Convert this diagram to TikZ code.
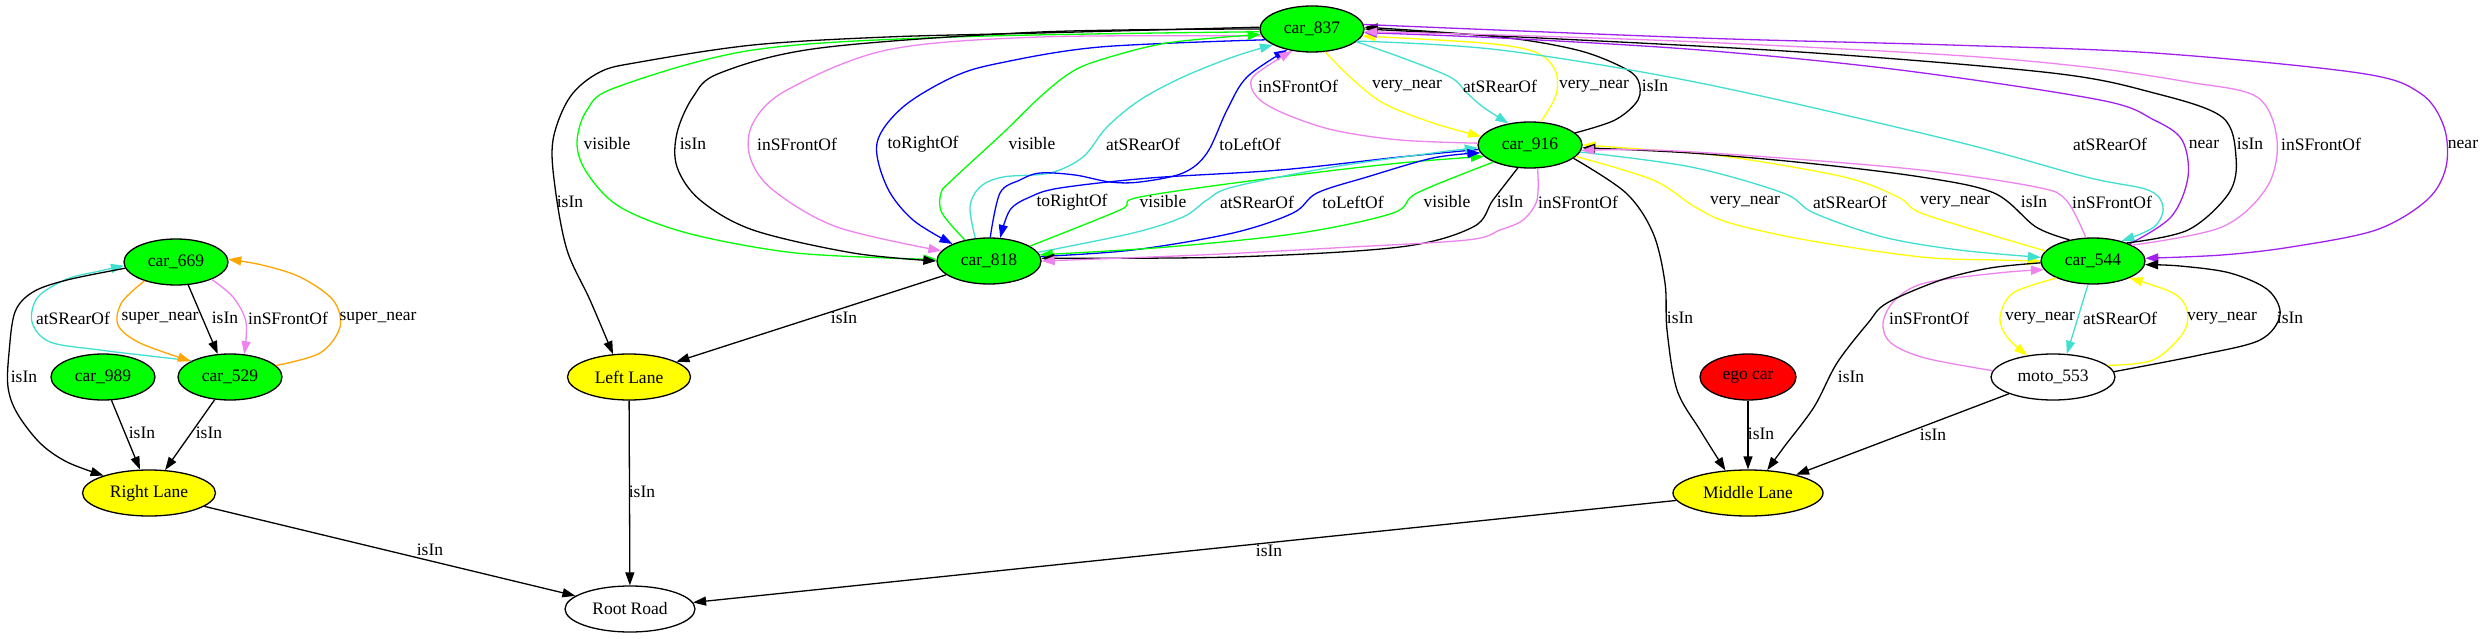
\documentclass[tikz,border=0pt]{standalone}
\usepackage{fontspec}
\setmainfont{Liberation Serif}
\usetikzlibrary{shapes.geometric,arrows.meta}
\definecolor{gvgreen}{RGB}{0,255,0}
\definecolor{gvviolet}{RGB}{238,130,238}
\definecolor{gvturq}{RGB}{64,224,208}
\definecolor{gvyellow}{RGB}{255,255,0}
\definecolor{gvpurple}{RGB}{160,32,240}
\definecolor{gvorange}{RGB}{255,165,0}
\definecolor{gvblue}{RGB}{0,0,255}
\definecolor{gvred}{RGB}{255,0,0}
\newcommand\gvf{\fontsize{17.5pt}{21pt}\selectfont}
\tikzset{
 gv/.style={ellipse, draw=black, line width=1.3pt, inner sep=0pt, minimum height=46pt, font=\gvf},
 carn/.style={gv, fill=gvgreen, minimum width=104pt},
 lanen/.style={gv, fill=gvyellow},
 plainn/.style={gv, fill=white},
 lbl/.style={inner sep=0pt, font=\gvf},
 ed/.style={line width=1.3pt, -{Triangle[length=13pt,width=9pt]}},
 sm/.style={smooth, tension=0.55},
}
\begin{document}
\begin{tikzpicture}[x=1pt,y=-1pt]
\useasboundingbox[fill=white] (0,0) rectangle (2484,639);
% nodes
\node[carn] (car837) at (1312,29) {car\_837};
\node[carn] (car916) at (1530,145) {car\_916};
\node[carn] (car818) at (989,261) {car\_818};
\node[carn] (car544) at (2093,261) {car\_544};
\node[carn] (car669) at (176,262) {car\_669};
\node[carn] (car989) at (103,377) {car\_989};
\node[carn] (car529) at (230,377) {car\_529};
\node[lanen, minimum width=123pt] (leftlane) at (629,377) {Left Lane};
\node[gv, fill=gvred, minimum width=96pt] (ego) at (1748,377) {ego car};
\node[plainn, minimum width=124pt] (moto) at (2053,377) {moto\_553};
\node[lanen, minimum width=133pt] (rightlane) at (149,493) {Right Lane};
\node[lanen, minimum width=150pt] (middlelane) at (1748,493) {Middle Lane};
\node[plainn, minimum width=130pt] (root) at (630,609) {Root Road};

% left cluster
\draw[ed, gvturq] plot[sm] coordinates {(car529.157) (150,356) (100,350) (50,342) (32,322) (38,297) (67,279) (100,271) (car669.184)};
\draw[ed, gvorange] plot[sm] coordinates {(car669.211) (122,302) (118,325) (140,343) (car529.158)};
\draw[ed] (car669.298) -- (car529.118);
\draw[ed, gvviolet] plot[sm] coordinates {(car669.334) (233,297) (246,322) (car529.58)};
\draw[ed, gvorange] plot[sm] coordinates {(car529.14) (320,353) (340,327) (333,300) (300,277) (262,265) (car669.3)};
\draw[ed] plot[sm] coordinates {(car669.187) (67,280) (33,292) (15,312) (9,353) (8,387) (17,413) (40,443) (67,462) (rightlane.159)};
\draw[ed] (car989.290) -- (rightlane.111);
\draw[ed] (car529.236) -- (rightlane.55);
\draw[ed] (rightlane) -- (root);
\draw[ed] (leftlane) -- (root);
\draw[ed] (middlelane) -- (root);
\draw[ed] (car818) -- (leftlane);
% car837 -> left side
\draw[ed] plot[sm] coordinates {(car837.178) (1040,33) (887,37) (753,45) (640,62) (600,72) (570,97) (553,140) (555,187) (567,250) (590,300) (leftlane.125)};
\draw[ed, gvgreen] plot[sm] coordinates {(car837.183) (953,37) (753,50) (617,87) (587,110) (577,143) (587,173) (620,207) (687,233) (787,252) (887,258) (car818.178)};
\draw[ed] plot[sm] coordinates {(car837.180) (1040,32) (820,48) (720,73) (693,97) (677,133) (677,167) (700,200) (753,230) (853,253) (car818.180)};
\draw[ed, gvviolet] plot[sm] coordinates {(car837.188) (1040,37) (887,50) (787,90) (753,123) (750,157) (773,190) (837,227) (car818.168)};
\draw[ed, gvblue] plot[sm] coordinates {(car837.193) (1100,47) (1000,63) (953,77) (903,107) (877,143) (887,187) (913,220) (car818.155)};
% car818 -> car837
\draw[ed, gvgreen] plot[sm] coordinates {(car818.139) (942,213) (941,193) (952,180) (1003,133) (1040,97) (1070,73) (1100,60) (1167,43) (car837.186)};
\draw[ed, gvturq] plot[sm] coordinates {(car818.121) (970,207) (980,187) (1003,177) (1050,173) (1083,157) (1107,127) (1140,100) (1183,77) (1233,57) (car837.202)};
\draw[ed, gvblue] plot[sm] coordinates {(car818.87) (1000,193) (1020,180) (1040,173) (1075,175) (1110,182) (1140,182) (1183,173) (1207,153) (1227,110) (1247,77) (car837.220)};
% car916 <-> car818
\draw[ed, gvblue] plot[sm] coordinates {(car916.185) (1400,157) (1280,170) (1150,178) (1060,188) (1030,197) (1010,210) (car818.64)};
\draw[ed, gvgreen] plot[sm] coordinates {(car818.20) (1120,210) (1140,197) (1280,177) (1400,163) (car916.194)};
\draw[ed, gvturq] plot[sm] coordinates {(car818.10) (1133,233) (1183,217) (1207,200) (1233,187) (1333,167) (1433,153) (car916.183)};
\draw[ed, gvblue] plot[sm] coordinates {(car818.5) (1133,250) (1233,233) (1293,213) (1317,193) (1367,177) (1433,158) (car916.189)};
\draw[ed, gvgreen] plot[sm] coordinates {(car916.205) (1417,193) (1393,213) (1300,233) (1167,247) (car818.7)};
\draw[ed] plot[sm] coordinates {(car916.242) (1493,200) (1473,227) (1400,247) (1233,257) (car818.3)};
\draw[ed, gvviolet] plot[sm] coordinates {(car916.288) (1537,200) (1523,220) (1500,230) (1467,240) (1333,248) (1200,255) (car818.0)};
% car837 <-> car916
\draw[ed, gvviolet] plot[sm] coordinates {(car916.178) (1400,140) (1333,130) (1283,113) (1257,97) (1253,77) (car837.228)};
\draw[ed, gvyellow] plot[sm] coordinates {(car837.300) (1350,77) (1383,103) (1433,123) (car916.170)};
\draw[ed, gvturq] plot[sm] coordinates {(car837.344) (1400,57) (1450,77) (1467,93) (1483,107) (car916.135)};
\draw[ed, gvyellow] plot[sm] coordinates {(car916.65) (1556,95) (1555,70) (1535,52) (1483,43) (car837.352)};
\draw[ed] plot[sm] coordinates {(car916.15) (1615,120) (1638,100) (1638,80) (1622,67) (1577,50) (1500,37) (car837.2)};
% car837 <-> car544
\draw[ed, gvturq] plot[sm] coordinates {(car837.345) (1500,50) (1700,83) (1950,140) (2086,177) (2148,190) (2163,207) (2154,227) (car544.35)};
\draw[ed, gvpurple] plot[sm] coordinates {(car544.25) (2171,217) (2188,177) (2182,140) (2154,120) (2100,100) (1900,70) (1700,50) (1500,38) (car837.356)};
\draw[ed] plot[sm] coordinates {(car544.28) (2188,230) (2229,193) (2236,157) (2222,117) (2154,93) (2052,73) (1800,52) (1500,36) (car837.0)};
\draw[ed, gvviolet] plot[sm] coordinates {(car544.22) (2222,227) (2267,187) (2277,140) (2257,97) (2188,82) (2086,67) (1950,55) (1700,42) (1500,35) (car837.357)};
\draw[ed, gvpurple] plot[sm] coordinates {(car837.5) (1700,38) (1950,45) (2154,53) (2359,73) (2420,93) (2444,127) (2446,167) (2427,200) (2376,230) (2291,247) (2222,255) (car544.3)};
% car916 <-> car544
\draw[ed, gvyellow] plot[sm] coordinates {(car916.346) (1653,180) (1695,207) (1730,223) (1806,240) (1921,257) (1998,260) (car544.180)};
\draw[ed, gvturq] plot[sm] coordinates {(car916.352) (1691,167) (1783,193) (1814,213) (1883,237) (1959,250) (car544.176)};
\draw[ed, gvyellow] plot[sm] coordinates {(car544.168) (1998,237) (1921,213) (1898,197) (1844,177) (1730,157) (1653,150) (car916.0)};
\draw[ed] plot[sm] coordinates {(car544.138) (2036,227) (1994,193) (1921,177) (1806,163) (1691,153) (car916.357)};
\draw[ed, gvviolet] plot[sm] coordinates {(car544.107) (2066,200) (2036,187) (1921,170) (1768,157) (1653,150) (car916.354)};
% car544 <-> moto
\draw[ed, gvviolet] plot[sm] coordinates {(moto.174) (1925,358) (1891,343) (1883,323) (1895,300) (1925,283) (1998,273) (car544.190)};
\draw[ed] plot[sm] coordinates {(car544.182) (1990,268) (1941,280) (1887,303) (1868,323) (1837,363) (1814,407) (1784,447) (middlelane.50)};
\draw[ed, gvyellow] plot[sm] coordinates {(car544.205) (2013,293) (2000,317) (2007,337) (moto.140)};
\draw[ed, gvturq] (car544.258) -- (moto.59);
\draw[ed, gvyellow] plot[sm] coordinates {(moto.12) (2153,360) (2183,333) (2187,310) (2173,293) (car544.335)};
\draw[ed] plot[sm] coordinates {(moto.5) (2200,355) (2260,340) (2280,315) (2268,290) (2230,273) (2180,266) (car544.356)};
\draw[ed] (moto) -- (middlelane);
\draw[ed] (ego) -- (middlelane);
\draw[ed] plot[sm] coordinates {(car916.343) (1626,193) (1653,233) (1665,283) (1667,330) (1677,390) (1700,430) (middlelane.135)};

% labels
\node[lbl] (l1) at (73,318) {atSRearOf};
\node[lbl] (l2) at (160,318) {super\_near};
\node[lbl] (l3) at (225,318) {isIn};
\node[lbl] (l4) at (288,318) {inSFrontOf};
\node[lbl] (l5) at (378,318) {super\_near};
\node[lbl] (l6) at (24,377) {isIn};
\node[lbl] (l7) at (142,433) {isIn};
\node[lbl] (l8) at (209,433) {isIn};
\node[lbl] (l9) at (430,550) {isIn};
\node[lbl] (l10) at (642,492) {isIn};
\node[lbl] (l11) at (1269,551) {isIn};
\node[lbl] (l12) at (844,318) {isIn};
\node[lbl] (l13) at (570,202) {isIn};
\node[lbl] (l14) at (607,144) {visible};
\node[lbl] (l15) at (693,144) {isIn};
\node[lbl] (l16) at (797,144) {inSFrontOf};
\node[lbl] (l17) at (923,144) {toRightOf};
\node[lbl] (l18) at (1032,144) {visible};
\node[lbl] (l19) at (1143,144) {atSRearOf};
\node[lbl] (l20) at (1250,144) {toLeftOf};
\node[lbl] (l21) at (1072,202) {toRightOf};
\node[lbl] (l22) at (1163,202) {visible};
\node[lbl] (l23) at (1257,202) {atSRearOf};
\node[lbl] (l24) at (1353,202) {toLeftOf};
\node[lbl] (l25) at (1447,202) {visible};
\node[lbl] (l26) at (1510,202) {isIn};
\node[lbl] (l27) at (1578,202) {inSFrontOf};
\node[lbl] (l28) at (1298,86) {inSFrontOf};
\node[lbl] (l29) at (1407,86) {very\_near};
\node[lbl] (l30) at (1500,86) {atSRearOf};
\node[lbl] (l31) at (1594,86) {very\_near};
\node[lbl] (l32) at (1655,86) {isIn};
\node[lbl] (l33) at (2110,144) {atSRearOf};
\node[lbl] (l34) at (2204,144) {near};
\node[lbl] (l35) at (2250,144) {isIn};
\node[lbl] (l36) at (2321,144) {inSFrontOf};
\node[lbl] (l37) at (2463,144) {near};
\node[lbl] (l38) at (1745,202) {very\_near};
\node[lbl] (l39) at (1850,202) {atSRearOf};
\node[lbl] (l40) at (1955,202) {very\_near};
\node[lbl] (l41) at (2034,202) {isIn};
\node[lbl] (l42) at (2112,202) {inSFrontOf};
\node[lbl] (l43) at (1929,318) {inSFrontOf};
\node[lbl] (l44) at (1851,377) {isIn};
\node[lbl] (l45) at (2040,318) {very\_near};
\node[lbl] (l46) at (2120,318) {atSRearOf};
\node[lbl] (l47) at (2222,318) {very\_near};
\node[lbl] (l48) at (2290,318) {isIn};
\node[lbl] (l49) at (1933,435) {isIn};
\node[lbl] (l50) at (1761,434) {isIn};
\node[lbl] (l51) at (1680,318) {isIn};
\end{tikzpicture}
\end{document}
